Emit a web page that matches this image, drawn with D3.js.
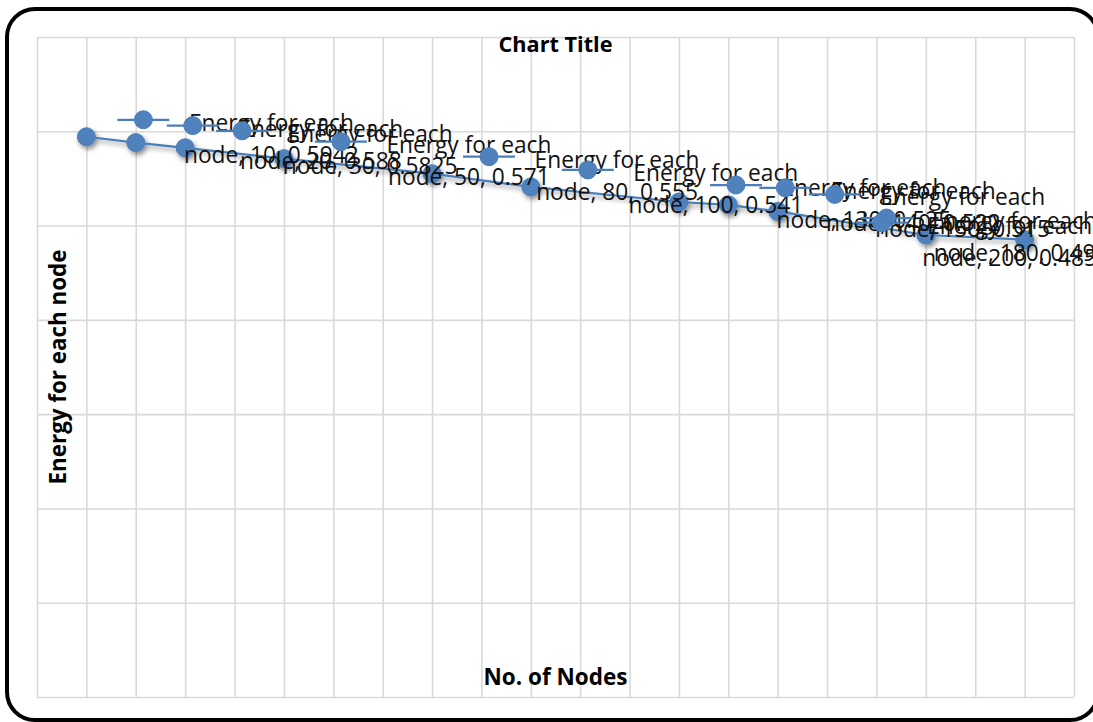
<!DOCTYPE html>
<html><head><meta charset="utf-8">
<script src="https://cdn.jsdelivr.net/npm/d3@7/dist/d3.min.js"></script>
<style>html,body{margin:0;padding:0;background:#fff;overflow:hidden}</style>
</head><body>
<svg id="chart" width="1093" height="722"></svg>
<script>
// ---------- data ----------
const seriesName = "Energy for each node";
const chartTitle = "Chart Title";
const xAxisTitle = "No. of Nodes";
const yAxisTitle = "Energy for each node";
const nodes  = [10, 20, 30, 50, 80, 100, 130, 140, 150, 180, 200];
const energy = [0.5942, 0.588, 0.5825, 0.571, 0.555, 0.541, 0.525, 0.522, 0.515, 0.49, 0.485];
const xTickValues = [0,10,20,30,40,50,60,70,80,90,100,110,120,130,140,150,160,170,180,190,200,210];
const yTickValues = [0,0.1,0.2,0.3,0.4,0.5,0.6,0.7];

// ---------- layout ----------
const W = 1093, H = 722;
const plot = {l: 37, r: 1074, t: 37, b: 697};
const chartRight = 1097;
const FONT = "'Open Sans', 'Liberation Sans', sans-serif";
const blue = "#4a7ebb", markerFill = "#4f81bd";

const svg = d3.select("#chart");
const defs = svg.append("defs");
const f = defs.append("filter").attr("id","sh").attr("x","-50%").attr("y","-50%").attr("width","200%").attr("height","200%");
f.append("feDropShadow").attr("dx",2).attr("dy",3).attr("stdDeviation",2.5)
  .attr("flood-color","#000").attr("flood-opacity",0.45);
defs.append("clipPath").attr("id","area").append("rect")
  .attr("x",7).attr("y",9).attr("width",1091).attr("height",711).attr("rx",28);

svg.append("rect").attr("width",W).attr("height",H).attr("fill","#fff");
const root = svg.append("g").attr("clip-path","url(#area)");

const x = d3.scaleLinear().domain([0,210]).range([plot.l, plot.r]);
const y = d3.scaleLinear().domain([0,0.7]).range([plot.b, plot.t]);

// gridlines via axes
const gx = root.append("g").attr("transform",`translate(0,${plot.b})`)
  .call(d3.axisBottom(x).tickValues(xTickValues).tickSize(-(plot.b-plot.t)).tickFormat(""));
const gy = root.append("g").attr("transform",`translate(${plot.l},0)`)
  .call(d3.axisLeft(y).tickValues(yTickValues).tickSize(-(plot.r-plot.l)).tickFormat(""));
[gx,gy].forEach(g=>{
  g.select(".domain").remove();
  g.selectAll(".tick line").attr("stroke","#d9d9d9").attr("stroke-width",1.6);
});

// helper to size text to a target width
function measure(txt, size, weight){
  const t = svg.append("text").attr("font-family",FONT).attr("font-size",size)
    .attr("font-weight",weight).text(txt);
  const w = t.node().getComputedTextLength(); t.remove(); return w;
}
const labelSize = 100 * 165 / measure("Energy for each", 100, "normal");

// titles
function title(txt, targetW, tx, ty, rot){
  const s = 100 * targetW / measure(txt, 100, "bold");
  root.append("text").attr("font-family",FONT).attr("font-weight","bold")
    .attr("font-size",s).attr("text-anchor","middle").attr("fill","#000")
    .attr("transform",`translate(${tx},${ty})` + (rot?` rotate(${rot})`:""))
    .text(txt);
}
title(chartTitle, 114, (plot.l+plot.r)/2, 52, 0);
title(xAxisTitle, 144, (plot.l+plot.r)/2, 685, 0);
title(yAxisTitle, 235, 66, (plot.t+plot.b)/2, -90);

// series
const data = nodes.map((n,i)=>({x:n, y:energy[i]}));
const sg = root.append("g").attr("filter","url(#sh)");
sg.append("path").datum(data)
  .attr("d", d3.line().x(d=>x(d.x)).y(d=>y(d.y)))
  .attr("fill","none").attr("stroke",blue).attr("stroke-width",2.25);
sg.selectAll("circle").data(data).join("circle")
  .attr("cx",d=>x(d.x)).attr("cy",d=>y(d.y)).attr("r",9)
  .attr("fill",markerFill).attr("stroke",blue).attr("stroke-width",1);

// data labels (legend key + series name, x, y)
const words = seriesName.split(" ");
const line1 = words.slice(0,3).join(" ");
const restName = words.slice(3).join(" ");
const lg = root.append("g");
data.forEach(d=>{
  const px = x(d.x), py = y(d.y);
  const l2 = `${restName}, ${d.x}, ${d.y}`;
  const maxW = Math.max(measure(line1,labelSize,"normal"), measure(l2,labelSize,"normal"));
  let kx = px + 57; const ky = py - 17;
  let cx = kx + 128;
  const over = cx + maxW/2 - chartRight;
  if (over > 0){ kx -= over; cx -= over; }
  const g = lg.append("g");
  g.append("line").attr("x1",kx-26).attr("x2",kx+26).attr("y1",ky).attr("y2",ky)
    .attr("stroke",blue).attr("stroke-width",2.25);
  g.append("circle").attr("cx",kx).attr("cy",ky).attr("r",9)
    .attr("fill",markerFill).attr("stroke",blue).attr("stroke-width",1);
  const t = g.append("text").attr("font-family",FONT).attr("font-size",labelSize)
    .attr("fill","#111").attr("text-anchor","middle");
  t.append("tspan").attr("x",cx).attr("y",ky+11).text(line1);
  t.append("tspan").attr("x",cx).attr("y",ky+43).text(l2);
});

// chart border
svg.append("rect").attr("x",7).attr("y",9).attr("width",1091).attr("height",711).attr("rx",28)
  .attr("fill","none").attr("stroke","#000").attr("stroke-width",4);
</script>
</body></html>
